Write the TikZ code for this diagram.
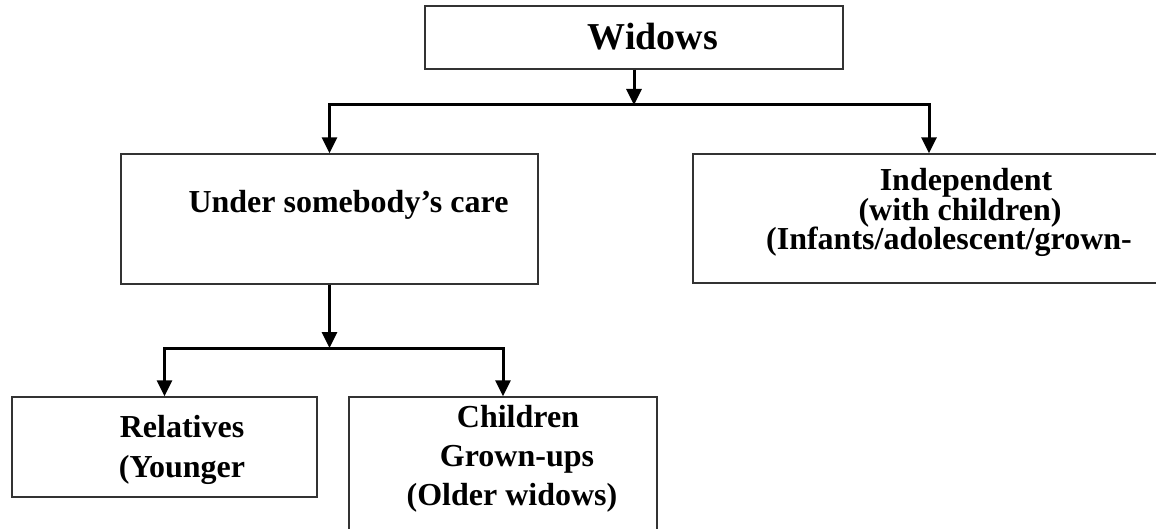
\documentclass[tikz,border=0pt]{standalone}
\usepackage{fontspec}
\setmainfont{Liberation Serif}
\usetikzlibrary{arrows.meta}
\begin{document}
\begin{tikzpicture}[x=1pt,y=-1pt,
  box/.style={draw=black!80, line width=1.3pt, inner sep=0pt},
  conn/.style={line width=3pt},
  arr/.style={conn, -{Triangle[width=15pt,length=16pt]}},
  big/.style={font=\bfseries\fontsize{38}{40}\selectfont, inner sep=0pt, anchor=base},
  txt/.style={font=\bfseries\fontsize{32}{34}\selectfont, inner sep=0pt, anchor=base}]
\useasboundingbox (0,0) rectangle (1156,529);
\clip (0,0) rectangle (1156,529);
% boxes
\node[box, minimum width=418pt, minimum height=63pt] (w) at (634,37.5) {};
\node[box, minimum width=417pt, minimum height=130pt] (u) at (329.5,219) {};
\node[box, minimum width=472pt, minimum height=129pt] (i) at (929,218.5) {};
\node[box, minimum width=305pt, minimum height=100pt] (r) at (164.5,447) {};
\node[box, minimum width=308pt, minimum height=150pt] (c) at (503,472) {};
% texts
\node[big] (tw) at (653,50) {Widows};
\node[txt] (tu) at (348.5,213) {Under somebody’s care};
\node[txt] (ti1) at (966,191) {Independent};
\node[txt] (ti2) at (960,220.5) {(with children)};
\node[txt] (ti3) at (949,250) {(Infants/adolescent/grown-};
\node[txt] (tr1) at (182,437) {Relatives};
\node[txt] (tr2) at (182,477) {(Younger};
\node[txt] (tc1) at (518,427) {Children};
\node[txt] (tc2) at (517,466) {Grown-ups};
\node[txt] (tc3) at (512,505) {(Older widows)};
% connectors
\coordinate (j1) at (634,105);
\coordinate (j2) at (329.5,348);
\draw[arr] (w.south) -- (j1);
\draw[arr] (j1) -| (u.north);
\draw[arr] (j1) -| (i.north);
\draw[arr] (u.south) -- (j2);
\draw[arr] (j2) -| (r.north);
\draw[arr] (j2) -| (c.north);
\end{tikzpicture}
\end{document}
